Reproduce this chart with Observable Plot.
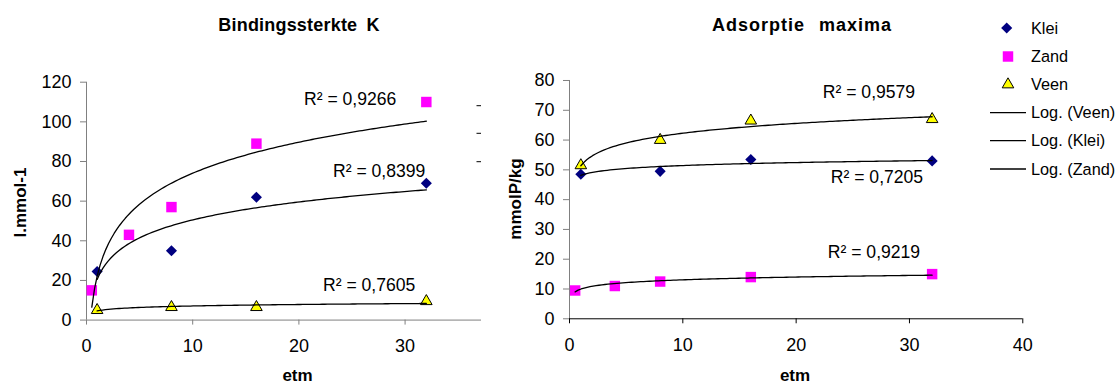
<!DOCTYPE html>
<html><head><meta charset="utf-8">
<script src="https://cdn.jsdelivr.net/npm/d3@7"></script>
<script src="https://cdn.jsdelivr.net/npm/@observablehq/plot@0.6"></script>
<style>
body{margin:0;background:#fff;}
#root{position:relative;width:1117px;height:385px;overflow:hidden;background:#fff;font-family:"Liberation Sans",Arial,sans-serif;}
.abs{position:absolute;top:0;}
#leftWrap{left:0;width:481px;height:385px;overflow:hidden;}
#rightWrap{left:480px;}
#overlay{left:0;top:0;pointer-events:none;}
</style></head><body><div id="root">
<div id="leftWrap" class="abs"></div>
<div id="rightWrap" class="abs"></div>
</div>
<script>
// ---------- data ----------
const soils = ["Klei", "Zand", "Veen"];
const etmKlei = [1, 8, 16, 32];
const etmZand = [0.5, 4, 8, 16, 32];
const etmVeen = [1, 8, 16, 32];
// Bindingssterkte K (l.mmol-1)
const bindKlei = [24.5, 35, 62, 69];
const bindZand = [15, 43, 57, 89, 110];
const bindVeen = [5, 6.5, 6.5, 9.5];
// Adsorptie maxima (mmolP/kg)
const adsKlei = [48.5, 49.5, 53.5, 53];
const adsZand = [9.5, 11, 12.5, 14, 15];
const adsVeen = [51.5, 60, 66.5, 67];
// R² labels as printed (Klei, Zand, Veen)
const r2Bind = ["0,8399", "0,9266", "0,7605"];
const r2Ads = ["0,7205", "0,9219", "0,9579"];
// ticks
const xTicks = [0, 10, 20, 30, 40];
const yTicksBind = [0, 20, 40, 60, 80, 100, 120];
const yTicksAds = [0, 10, 20, 30, 40, 50, 60, 70, 80];
const legendLabels = ["Klei", "Zand", "Veen", "Log. (Veen)", "Log. (Klei)", "Log. (Zand)"];

// ---------- helpers ----------
const FONT = '"Liberation Sans", Arial, sans-serif';
const style = {
  Klei: {symbol: "diamond2", r: 5, fill: "#000080", stroke: "none"},
  Zand: {symbol: "square", r: 5.9, fill: "#FF00FF", stroke: "none"},
  Veen: {symbol: "triangle", r: 4.3, fill: "#FFFF00", stroke: "#000", strokeWidth: 1}
};
function rows(xs, ys, soil) { return xs.map((x, i) => ({etm: x, v: ys[i], soil})); }
// logarithmic least-squares trendline (as Excel "Log." trendline), from the data
function logTrend(xs, ys, soil) {
  const lx = xs.map(Math.log), mx = d3.mean(lx), my = d3.mean(ys);
  let sxy = 0, sxx = 0;
  lx.forEach((v, i) => { sxy += (v - mx) * (ys[i] - my); sxx += (v - mx) ** 2; });
  const a = sxy / sxx, b = my - a * mx;
  const [x0, x1] = d3.extent(xs);
  return d3.range(0, 121).map(i => {
    const x = x0 + (x1 - x0) * i / 120;
    return {etm: x, v: a * Math.log(x) + b, soil};
  });
}

function panel(cfg) {
  const series = [
    {soil: "Klei", xs: etmKlei, ys: cfg.klei},
    {soil: "Zand", xs: etmZand, ys: cfg.zand},
    {soil: "Veen", xs: etmVeen, ys: cfg.veen}
  ];
  const marks = [
    Plot.ruleY([0], {stroke: cfg.xAxisColor, strokeWidth: 1}),
    Plot.ruleX([0], {stroke: "#808080", strokeWidth: 1}),
    Plot.axisY({ticks: cfg.yTicks, tickSize: 6, tickPadding: 9, stroke: "#808080", color: "#000", label: null, tickFormat: d => d}),
    Plot.axisX({ticks: cfg.xTicks, tickSize: 5, tickPadding: 14, stroke: cfg.xAxisColor, color: "#000", label: null, tickFormat: d => d})
  ];
  for (const s of series) {
    marks.push(Plot.dot(rows(s.xs, s.ys, s.soil), {x: "etm", y: "v", ...style[s.soil]}));
  }
  series.forEach((s, i) => {
    const tr = logTrend(s.xs, s.ys, s.soil);
    marks.push(Plot.line(tr, {x: "etm", y: "v", stroke: "#000", strokeWidth: 1.3}));
    const end = tr[tr.length - 1];
    const off = cfg.labelOffsets[s.soil];
    marks.push(Plot.text([end], {x: "etm", y: "v", text: () => "R² = " + cfg.r2[i],
      textAnchor: "end", dx: off[0], dy: off[1], fontSize: 17.6, fill: "#000"}));
  });
  return Plot.plot({
    width: cfg.width, height: 385,
    marginLeft: cfg.marginLeft, marginRight: 0, marginTop: cfg.marginTop, marginBottom: cfg.marginBottom,
    x: {domain: [0, 40]},
    y: {domain: cfg.yDomain},
    style: {fontFamily: FONT, fontSize: "18px", background: "transparent", overflow: "visible", color: "#000", maxWidth: "none"},
    marks
  });
}

const left = panel({
  klei: bindKlei, zand: bindZand, veen: bindVeen, r2: r2Bind,
  yTicks: yTicksBind, yDomain: [0, 120], xTicks: xTicks.filter(t => t < 37),
  width: 86 + 424.8, marginLeft: 86, marginTop: 81.7, marginBottom: 385 - 319.6,
  xAxisColor: "#808080",
  labelOffsets: {Zand: [-30, -22], Klei: [-1, -18], Veen: [-11, -18]}
});
document.getElementById("leftWrap").appendChild(left);

const right = panel({
  klei: adsKlei, zand: adsZand, veen: adsVeen, r2: r2Ads,
  yTicks: yTicksAds, yDomain: [0, 80], xTicks: xTicks,
  width: 89 + 453.3, marginLeft: 89, marginTop: 80, marginBottom: 385 - 318.3,
  xAxisColor: "#000",
  labelOffsets: {Veen: [-17, -24], Klei: [-9, 17], Zand: [-12, -23]}
});
document.getElementById("rightWrap").appendChild(right);

// ---------- overlay: titles, axis titles, legend ----------
const svg = d3.select("#root").append("svg").attr("id", "overlay").attr("class", "abs")
  .attr("width", 1117).attr("height", 385).style("font-family", FONT);

svg.append("text").attr("x", 299).attr("y", 31).attr("text-anchor", "middle")
  .attr("font-size", 18).attr("font-weight", "bold").attr("letter-spacing", 0.2).attr("word-spacing", 4)
  .text("Bindingssterkte K");
svg.append("text").attr("x", 802).attr("y", 31).attr("text-anchor", "middle")
  .attr("font-size", 18).attr("font-weight", "bold").attr("letter-spacing", 1).attr("word-spacing", 8)
  .text("Adsorptie maxima");

svg.append("text").attr("transform", "translate(25.5,202.5) rotate(-90)").attr("text-anchor", "middle")
  .attr("font-size", 17).attr("font-weight", "bold").text("l.mmol-1");
svg.append("text").attr("transform", "translate(520.5,199) rotate(-90)").attr("text-anchor", "middle")
  .attr("font-size", 17).attr("font-weight", "bold").text("mmolP/kg");
svg.append("text").attr("x", 297.5).attr("y", 381).attr("text-anchor", "middle")
  .attr("font-size", 17).attr("font-weight", "bold").text("etm");
svg.append("text").attr("x", 795).attr("y", 381).attr("text-anchor", "middle")
  .attr("font-size", 17).attr("font-weight", "bold").text("etm");

// remnants of the left chart's legend lines, peeking out under the right chart
[105.7, 133.3, 161.7].forEach(y => svg.append("line").attr("x1", 476.5).attr("x2", 481)
  .attr("y1", y).attr("y2", y).attr("stroke", "#000").attr("stroke-width", 1));

// legend
const symMap = {Klei: d3.symbolDiamond2, Zand: d3.symbolSquare, Veen: d3.symbolTriangle};
const legY = [28, 56.5, 84.5, 112.7, 140.7, 169];
soils.forEach((s, i) => {
  const st = style[s];
  svg.append("path").attr("transform", `translate(${i === 0 ? 1006.7 : 1008},${legY[i]})`)
    .attr("d", d3.symbol(symMap[s], st.r * st.r * Math.PI)())
    .attr("fill", st.fill).attr("stroke", st.stroke).attr("stroke-width", st.strokeWidth || 0);
});
legendLabels.forEach((t, i) => {
  if (i >= 3) svg.append("line").attr("x1", 990).attr("x2", 1026).attr("y1", legY[i]).attr("y2", legY[i])
    .attr("stroke", "#000").attr("stroke-width", 1.3);
  svg.append("text").attr("x", 1031).attr("y", legY[i]).attr("dy", "0.35em")
    .attr("font-size", 16.3).text(t);
});
</script></body></html>
